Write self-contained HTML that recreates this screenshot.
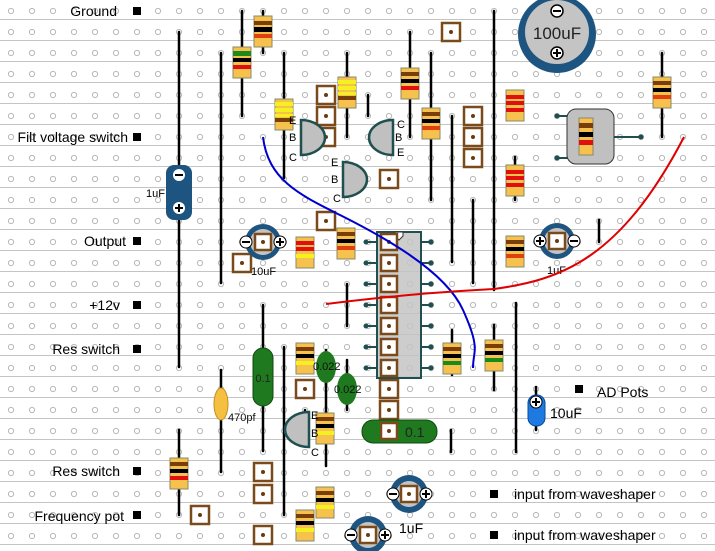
<!DOCTYPE html>
<html><head><meta charset="utf-8"><style>
html,body{margin:0;padding:0;background:#fff;}
svg{display:block;font-family:"Liberation Sans",Arial,sans-serif;}
.w{stroke:#000;stroke-width:2.5;fill:none;stroke-linecap:round}
.rb{fill:#f7c14e;stroke:#8a8a6a;stroke-width:1}
.pad{fill:#fff;stroke:#7a4a1a;stroke-width:2.5}
.pd{fill:#6a3a10}
.lbl{font-size:14px;fill:#000}
.sm{font-size:11px;fill:#000}
.tr{fill:#c0c0c0;stroke:#1f4f4f;stroke-width:2.5}
</style></head><body>
<svg width="715" height="551" viewBox="0 0 715 551" xmlns="http://www.w3.org/2000/svg">
<defs>
<pattern id="g" x="0" y="0" width="21" height="21" patternUnits="userSpaceOnUse">
<line x1="0" y1="19.5" x2="21" y2="19.5" stroke="#c4c4c4" stroke-width="1"/>
<line x1="0" y1="21.5" x2="21" y2="21.5" stroke="#dcdcdc" stroke-width="1"/>
<circle cx="11" cy="11" r="2.6" fill="none" stroke="#b8b8b8" stroke-width="1"/>
</pattern>
</defs>
<rect width="715" height="551" fill="#fff"/>
<rect width="715" height="551" fill="url(#g)"/>

<g class="lbl" text-anchor="end">
<text x="117" y="16">Ground</text>
<text x="128" y="142">Filt voltage switch</text>
<text x="126" y="246">Output</text>
<text x="120" y="310">+12v</text>
<text x="120" y="354">Res switch</text>
<text x="120" y="476">Res switch</text>
<text x="124" y="521">Frequency pot</text>
</g>
<g fill="#000">
<rect x="133" y="7" width="8" height="8"/><rect x="133" y="133" width="8" height="8"/>
<rect x="133" y="237" width="8" height="8"/><rect x="133" y="301" width="8" height="8"/>
<rect x="133" y="345" width="8" height="8"/><rect x="133" y="467" width="8" height="8"/>
<rect x="133" y="511" width="8" height="8"/>
<rect x="575" y="385" width="8" height="8"/><rect x="490" y="490" width="8" height="8"/>
<rect x="490" y="531" width="8" height="8"/>
</g>
<text class="lbl" x="597" y="397">AD Pots</text>
<text class="lbl" x="514" y="499">input from waveshaper</text>
<text class="lbl" x="514" y="540">input  from waveshaper</text>

<g class="w">
<line x1="179" y1="32" x2="179" y2="367"/>
<line x1="221" y1="53" x2="221" y2="283"/>
<line x1="242" y1="11" x2="242" y2="116"/>
<line x1="263" y1="11" x2="263" y2="53"/>
<line x1="284" y1="53" x2="284" y2="178"/>
<line x1="347" y1="53" x2="347" y2="137"/>
<line x1="368" y1="95" x2="368" y2="116"/>
<line x1="410" y1="32" x2="410" y2="137"/>
<line x1="431" y1="53" x2="431" y2="200"/>
<line x1="494" y1="11" x2="494" y2="290"/>
<line x1="452" y1="116" x2="452" y2="262"/>
<line x1="473" y1="200" x2="473" y2="283"/>
<line x1="515" y1="157" x2="515" y2="200"/>
<line x1="599" y1="220" x2="599" y2="242"/>
<line x1="662" y1="53" x2="662" y2="137"/>
<line x1="347" y1="284" x2="347" y2="326"/>
<line x1="263" y1="305" x2="263" y2="451"/>
<line x1="284" y1="347" x2="284" y2="515"/>
<line x1="221" y1="370" x2="221" y2="472"/>
<line x1="179" y1="430" x2="179" y2="515"/>
<line x1="326" y1="380" x2="326" y2="466"/>
<line x1="451" y1="430" x2="451" y2="452"/>
<line x1="494" y1="325" x2="494" y2="390"/>
<line x1="516" y1="303" x2="516" y2="452"/>
<line x1="452" y1="330" x2="452" y2="375"/>
<line x1="536" y1="387" x2="536" y2="430"/>
<line x1="305" y1="410" x2="305" y2="428"/>
<line x1="347" y1="360" x2="347" y2="410"/>
<line x1="326" y1="350" x2="326" y2="385"/>
</g>

<g>
<g transform="translate(263,16)"><rect class="rb" x="-9" y="0" width="18" height="31"/><rect x="-9" y="5" width="18" height="4" fill="#7a3e0a"/><rect x="-9" y="11" width="18" height="5" fill="#000"/><rect x="-9" y="18" width="18" height="4" fill="#e04010"/></g>
<g transform="translate(242,47)"><rect class="rb" x="-9" y="0" width="18" height="31"/><rect x="-9" y="4" width="18" height="5" fill="#1a8a1a"/><rect x="-9" y="11" width="18" height="4" fill="#000"/><rect x="-9" y="18" width="18" height="4" fill="#e01010"/></g>
<g transform="translate(284,99)"><rect class="rb" x="-9" y="0" width="18" height="31"/><rect x="-9" y="3" width="18" height="4" fill="#f5f020"/><rect x="-9" y="9" width="18" height="4" fill="#f5f020"/><rect x="-9" y="15" width="18" height="3" fill="#f5f020"/><rect x="-9" y="19" width="18" height="4" fill="#7a3e0a"/></g>
<g transform="translate(347,77)"><rect class="rb" x="-9" y="0" width="18" height="31"/><rect x="-9" y="3" width="18" height="4" fill="#f5f020"/><rect x="-9" y="9" width="18" height="4" fill="#f5f020"/><rect x="-9" y="15" width="18" height="3" fill="#f5f020"/><rect x="-9" y="19" width="18" height="4" fill="#7a3e0a"/></g>
<g transform="translate(410,68)"><rect class="rb" x="-9" y="0" width="18" height="31"/><rect x="-9" y="4" width="18" height="4" fill="#7a3e0a"/><rect x="-9" y="11" width="18" height="4" fill="#000"/><rect x="-9" y="18" width="18" height="4" fill="#e01010"/></g>
<g transform="translate(431,108)"><rect class="rb" x="-9" y="0" width="18" height="31"/><rect x="-9" y="4" width="18" height="4" fill="#7a3e0a"/><rect x="-9" y="11" width="18" height="4" fill="#000"/><rect x="-9" y="18" width="18" height="4" fill="#e04010"/></g>
<g transform="translate(515,90)"><rect class="rb" x="-9" y="0" width="18" height="31"/><rect x="-9" y="5" width="18" height="4" fill="#e01010"/><rect x="-9" y="11" width="18" height="4" fill="#e01010"/><rect x="-9" y="18" width="18" height="4" fill="#e01010"/></g>
<g transform="translate(515,165)"><rect class="rb" x="-9" y="0" width="18" height="31"/><rect x="-9" y="5" width="18" height="4" fill="#e01010"/><rect x="-9" y="11" width="18" height="4" fill="#e01010"/><rect x="-9" y="18" width="18" height="4" fill="#e01010"/></g>
<g transform="translate(515,236)"><rect class="rb" x="-9" y="0" width="18" height="31"/><rect x="-9" y="4" width="18" height="4" fill="#7a3e0a"/><rect x="-9" y="11" width="18" height="4" fill="#000"/><rect x="-9" y="18" width="18" height="4" fill="#e04010"/></g>
<g transform="translate(662,77)"><rect class="rb" x="-9" y="0" width="18" height="31"/><rect x="-9" y="4" width="18" height="4" fill="#7a3e0a"/><rect x="-9" y="11" width="18" height="4" fill="#000"/><rect x="-9" y="18" width="18" height="4" fill="#e04010"/></g>
<g transform="translate(305,237)"><rect class="rb" x="-9" y="0" width="18" height="31"/><rect x="-9" y="4" width="18" height="4" fill="#e01010"/><rect x="-9" y="10" width="18" height="4" fill="#e01010"/><rect x="-9" y="17" width="18" height="4" fill="#f5f020"/></g>
<g transform="translate(346,228)"><rect class="rb" x="-9" y="0" width="18" height="31"/><rect x="-9" y="4" width="18" height="4" fill="#7a3e0a"/><rect x="-9" y="11" width="18" height="4" fill="#000"/><rect x="-9" y="18" width="18" height="4" fill="#e04010"/></g>
<g transform="translate(305,343)"><rect class="rb" x="-9" y="0" width="18" height="31"/><rect x="-9" y="4" width="18" height="4" fill="#7a3e0a"/><rect x="-9" y="11" width="18" height="4" fill="#000"/><rect x="-9" y="18" width="18" height="4" fill="#f5f020"/></g>
<g transform="translate(452,343)"><rect class="rb" x="-9" y="0" width="18" height="31"/><rect x="-9" y="4" width="18" height="4" fill="#7a3e0a"/><rect x="-9" y="11" width="18" height="4" fill="#000"/><rect x="-9" y="18" width="18" height="4" fill="#1a8a1a"/></g>
<g transform="translate(494,340)"><rect class="rb" x="-9" y="0" width="18" height="31"/><rect x="-9" y="4" width="18" height="4" fill="#7a3e0a"/><rect x="-9" y="11" width="18" height="4" fill="#000"/><rect x="-9" y="18" width="18" height="4" fill="#1a8a1a"/></g>
<g transform="translate(179,458)"><rect class="rb" x="-9" y="0" width="18" height="31"/><rect x="-9" y="4" width="18" height="4" fill="#7a3e0a"/><rect x="-9" y="11" width="18" height="4" fill="#000"/><rect x="-9" y="18" width="18" height="4" fill="#e01010"/></g>
<g transform="translate(325,413)"><rect class="rb" x="-9" y="0" width="18" height="31"/><rect x="-9" y="4" width="18" height="4" fill="#7a3e0a"/><rect x="-9" y="11" width="18" height="4" fill="#000"/><rect x="-9" y="18" width="18" height="4" fill="#f5f020"/></g>
<g transform="translate(325,487)"><rect class="rb" x="-9" y="0" width="18" height="31"/><rect x="-9" y="4" width="18" height="4" fill="#7a3e0a"/><rect x="-9" y="11" width="18" height="4" fill="#000"/><rect x="-9" y="18" width="18" height="4" fill="#f5f020"/></g>
<g transform="translate(305,510)"><rect class="rb" x="-9" y="0" width="18" height="31"/><rect x="-9" y="4" width="18" height="4" fill="#7a3e0a"/><rect x="-9" y="11" width="18" height="4" fill="#000"/><rect x="-9" y="18" width="18" height="4" fill="#f5f020"/></g>
</g>

<g>
<rect class="pad" x="442" y="23" width="18" height="18"/><circle class="pd" cx="451" cy="32" r="2"/>
<rect class="pad" x="317" y="86" width="18" height="18"/><circle class="pd" cx="326" cy="95" r="2"/>
<rect class="pad" x="317" y="107" width="18" height="18"/><circle class="pd" cx="326" cy="116" r="2"/>
<rect class="pad" x="317" y="128" width="18" height="18"/><circle class="pd" cx="326" cy="137" r="2"/>
<rect class="pad" x="380" y="170" width="18" height="18"/><circle class="pd" cx="389" cy="179" r="2"/>
<rect class="pad" x="464" y="107" width="18" height="18"/><circle class="pd" cx="473" cy="116" r="2"/>
<rect class="pad" x="464" y="128" width="18" height="18"/><circle class="pd" cx="473" cy="137" r="2"/>
<rect class="pad" x="464" y="149" width="18" height="18"/><circle class="pd" cx="473" cy="158" r="2"/>
<rect class="pad" x="317" y="212" width="18" height="18"/><circle class="pd" cx="326" cy="221" r="2"/>
<rect class="pad" x="233" y="254" width="18" height="18"/><circle class="pd" cx="242" cy="263" r="2"/>
<rect class="pad" x="296" y="380" width="18" height="18"/><circle class="pd" cx="305" cy="389" r="2"/>
<rect class="pad" x="380" y="380" width="18" height="18"/><circle class="pd" cx="389" cy="389" r="2"/>
<rect class="pad" x="380" y="401" width="18" height="18"/><circle class="pd" cx="389" cy="410" r="2"/>
<rect class="pad" x="254" y="463" width="18" height="18"/><circle class="pd" cx="263" cy="472" r="2"/>
<rect class="pad" x="254" y="485" width="18" height="18"/><circle class="pd" cx="263" cy="494" r="2"/>
<rect class="pad" x="254" y="526" width="18" height="18"/><circle class="pd" cx="263" cy="535" r="2"/>
<rect class="pad" x="191" y="506" width="18" height="18"/><circle class="pd" cx="200" cy="515" r="2"/>
</g>

<path class="tr" d="M301,120 A24,17.5 0 0 1 301,155 Z"/>
<path class="tr" d="M393,120 A24,17.5 0 0 0 393,155 Z"/>
<path class="tr" d="M343,162 A24,17.5 0 0 1 343,197 Z"/>
<path class="tr" d="M309,412 A24,17.5 0 0 0 309,447 Z"/>
<g class="sm" font-size="11">
<text x="289" y="124">E</text><text x="289" y="141">B</text><text x="289" y="161">C</text>
<text x="397" y="128">C</text><text x="395" y="141">B</text><text x="397" y="156">E</text>
<text x="331" y="166">E</text><text x="331" y="183">B</text><text x="333" y="202">C</text>
<text x="311" y="419">E</text><text x="311" y="437">B</text><text x="311" y="456">C</text>
</g>

<g stroke="#1f4f4f" stroke-width="2"><line x1="557" y1="116" x2="568" y2="116"/><line x1="557" y1="158" x2="568" y2="158"/><line x1="614" y1="137" x2="641" y2="137"/></g>
<circle cx="557" cy="116" r="2.5" fill="#1f4f4f"/><circle cx="557" cy="158" r="2.5" fill="#1f4f4f"/><circle cx="641" cy="137" r="2.5" fill="#1f4f4f"/>
<rect x="567" y="109" width="47" height="55" rx="9" fill="#c0c0c0" stroke="#333" stroke-width="1"/>
<g transform="translate(586,118)"><rect class="rb" x="-7" y="0" width="14" height="37"/><rect x="-7" y="5" width="14" height="5" fill="#7a3e0a"/><rect x="-7" y="14" width="14" height="5" fill="#000"/><rect x="-7" y="22" width="14" height="5" fill="#e01010"/></g>

<circle cx="557" cy="34" r="39" fill="#1d5580"/>
<circle cx="557" cy="32" r="32" fill="#c4c4c4"/>
<text x="557" y="39" text-anchor="middle" font-size="17" fill="#222">100uF</text>
<circle cx="557" cy="11" r="6" fill="#fff" stroke="#000" stroke-width="1.5"/><line x1="553" y1="11" x2="561" y2="11" stroke="#000" stroke-width="2"/>
<circle cx="557" cy="53" r="6" fill="#fff" stroke="#000" stroke-width="1.5"/><path d="M553,53H561M557,49V57" stroke="#000" stroke-width="2"/>

<rect x="166" y="165" width="26" height="55" rx="8" fill="#1d5580"/>
<circle cx="179" cy="175" r="6" fill="#fff"/><line x1="175" y1="175" x2="183" y2="175" stroke="#000" stroke-width="2"/>
<circle cx="179" cy="208" r="6" fill="#fff"/><path d="M175,208H183M179,204V212" stroke="#000" stroke-width="2"/>
<text class="sm" x="146" y="197" font-size="10">1uF</text>

<g>
<circle cx="263" cy="242" r="18" fill="#1d5580"/><circle cx="263" cy="242" r="13" fill="#c4c4c4"/>
<rect x="255" y="234" width="16" height="16" class="pad"/><circle class="pd" cx="263" cy="242" r="2"/>
<circle cx="246" cy="242" r="6" fill="#fff" stroke="#000"/><line x1="242" y1="242" x2="250" y2="242" stroke="#000" stroke-width="2"/>
<circle cx="280" cy="242" r="6" fill="#fff" stroke="#000"/><path d="M276,242H284M280,238V246" stroke="#000" stroke-width="2"/>
<text class="sm" x="251" y="275">10uF</text>
</g>
<g>
<circle cx="557" cy="241" r="18" fill="#1d5580"/><circle cx="557" cy="241" r="13" fill="#c4c4c4"/>
<rect x="549" y="233" width="16" height="16" class="pad"/><circle class="pd" cx="557" cy="241" r="2"/>
<circle cx="540" cy="241" r="6" fill="#fff" stroke="#000"/><path d="M536,241H544M540,237V245" stroke="#000" stroke-width="2"/>
<circle cx="574" cy="241" r="6" fill="#fff" stroke="#000"/><line x1="570" y1="241" x2="578" y2="241" stroke="#000" stroke-width="2"/>
<text class="sm" x="547" y="274">1uF</text>
</g>
<g>
<circle cx="409" cy="494" r="19" fill="#1d5580"/><circle cx="409" cy="494" r="13" fill="#c4c4c4"/>
<rect x="401" y="486" width="16" height="16" class="pad"/><circle class="pd" cx="409" cy="494" r="2"/>
<circle cx="393" cy="494" r="6" fill="#fff" stroke="#000"/><line x1="389" y1="494" x2="397" y2="494" stroke="#000" stroke-width="2"/>
<circle cx="426" cy="494" r="6" fill="#fff" stroke="#000"/><path d="M422,494H430M426,490V498" stroke="#000" stroke-width="2"/>
</g>
<g>
<circle cx="368" cy="535" r="19" fill="#1d5580"/><circle cx="368" cy="535" r="13" fill="#c4c4c4"/>
<rect x="360" y="527" width="16" height="16" class="pad"/><circle class="pd" cx="368" cy="535" r="2"/>
<circle cx="351" cy="535" r="6" fill="#fff" stroke="#000"/><line x1="347" y1="535" x2="355" y2="535" stroke="#000" stroke-width="2"/>
<circle cx="385" cy="535" r="6" fill="#fff" stroke="#000"/><path d="M381,535H389M385,531V539" stroke="#000" stroke-width="2"/>
</g>
<text class="lbl" x="399" y="533">1uF</text>

<g stroke="#1f4f4f" stroke-width="2">
<line x1="366" y1="242" x2="378" y2="242"/><line x1="366" y1="263" x2="378" y2="263"/><line x1="366" y1="284" x2="378" y2="284"/><line x1="366" y1="305" x2="378" y2="305"/><line x1="366" y1="326" x2="378" y2="326"/><line x1="366" y1="347" x2="378" y2="347"/><line x1="366" y1="368" x2="378" y2="368"/>
<line x1="420" y1="242" x2="431" y2="242"/><line x1="420" y1="263" x2="431" y2="263"/><line x1="420" y1="284" x2="431" y2="284"/><line x1="420" y1="305" x2="431" y2="305"/><line x1="420" y1="326" x2="431" y2="326"/><line x1="420" y1="347" x2="431" y2="347"/><line x1="420" y1="368" x2="431" y2="368"/>
</g>
<g fill="#1f4f4f"><circle cx="366" cy="242" r="2.5"/><circle cx="366" cy="263" r="2.5"/><circle cx="366" cy="284" r="2.5"/><circle cx="366" cy="305" r="2.5"/><circle cx="366" cy="326" r="2.5"/><circle cx="366" cy="347" r="2.5"/><circle cx="366" cy="368" r="2.5"/>
<circle cx="431" cy="242" r="2.5"/><circle cx="431" cy="263" r="2.5"/><circle cx="431" cy="284" r="2.5"/><circle cx="431" cy="305" r="2.5"/><circle cx="431" cy="326" r="2.5"/><circle cx="431" cy="347" r="2.5"/><circle cx="431" cy="368" r="2.5"/></g>
<rect x="377" y="232" width="44" height="146" fill="#c4c4c4" fill-opacity="0.85" stroke="#1f4f4f" stroke-width="2"/>
<path d="M395,232 h8 v4 l-4,4 l-4,-4 z" fill="#fff" stroke="#333"/>
<g>
<rect class="pad" x="381" y="234" width="16" height="16"/><circle class="pd" cx="389" cy="242" r="2"/>
<rect class="pad" x="381" y="255" width="16" height="16"/><circle class="pd" cx="389" cy="263" r="2"/>
<rect class="pad" x="381" y="276" width="16" height="16"/><circle class="pd" cx="389" cy="284" r="2"/>
<rect class="pad" x="381" y="297" width="16" height="16"/><circle class="pd" cx="389" cy="305" r="2"/>
<rect class="pad" x="381" y="318" width="16" height="16"/><circle class="pd" cx="389" cy="326" r="2"/>
<rect class="pad" x="381" y="339" width="16" height="16"/><circle class="pd" cx="389" cy="347" r="2"/>
<rect class="pad" x="381" y="360" width="16" height="16"/><circle class="pd" cx="389" cy="368" r="2"/>
</g>

<rect x="253" y="348" width="20" height="58" rx="10" fill="#1f7a1f" stroke="#0f4a0f"/>
<text x="263" y="382" text-anchor="middle" font-size="11" fill="#222">0.1</text>
<ellipse cx="326" cy="367" rx="10" ry="16" fill="#1f7a1f"/>
<ellipse cx="347" cy="389" rx="10" ry="16" fill="#1f7a1f"/>
<text x="313" y="370" font-size="11" fill="#111">0.022</text>
<text x="334" y="393" font-size="11" fill="#111">0.022</text>
<rect x="362" y="420" width="75" height="23" rx="11" fill="#1f7a1f" stroke="#0f4a0f"/>
<rect class="pad" x="381" y="423" width="16" height="16"/><circle class="pd" cx="389" cy="431" r="2"/>
<text x="405" y="437" font-size="14" fill="#222">0.1</text>
<ellipse cx="221" cy="404" rx="7" ry="16" fill="#f5c040" stroke="#c09020"/>
<text x="228" y="421" font-size="11" fill="#111">470pf</text>
<rect x="528" y="395" width="17" height="31" rx="8" fill="#1e7ae0" stroke="#0a4aa0"/>
<circle cx="536" cy="402" r="6" fill="#fff" stroke="#000"/><path d="M532,402H540M536,398V406" stroke="#000" stroke-width="2"/>
<text class="lbl" x="550" y="418">10uF</text>

<path d="M263,137 C268,180 300,195 340,215 S445,270 463,310 S473,350 473,368" fill="none" stroke="#0000cc" stroke-width="2"/>
<path d="M326,304 C400,295 440,292 494,289 C560,280 620,260 684,137" fill="none" stroke="#e00000" stroke-width="2"/>
</svg>
</body></html>
